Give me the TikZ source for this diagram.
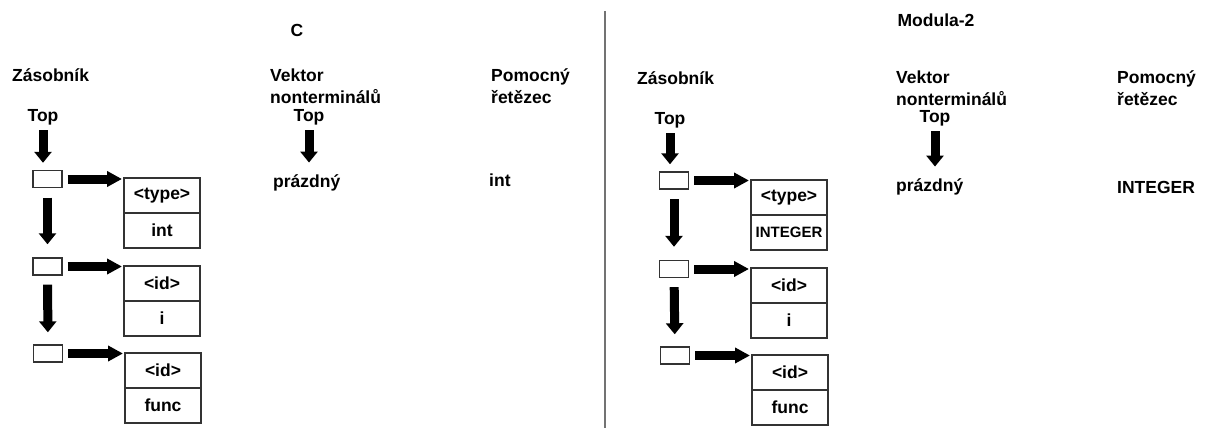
\documentclass[tikz,border=0pt]{standalone}
\usepackage{fontspec}
\setmainfont{Liberation Sans}
\usetikzlibrary{arrows.meta, positioning}

\begin{document}
\begin{tikzpicture}[x=1pt, y=-1pt,
          font=\fontsize{17.5}{22}\selectfont\bfseries,
          txt/.style={inner sep=0pt},
          lbl/.style={inner sep=0pt, anchor=west, align=left},
          slot/.style={
              draw=black!80,
              line width=1.4pt,
              minimum width=29pt,
              minimum height=17pt,
              inner sep=0pt
            },
          cell/.style={
              draw=black!80,
              line width=1.4pt,
              outer sep=0pt,
              minimum width=76pt,
              minimum height=35pt,
              inner sep=0pt
            },
          darr/.style={-{Triangle[length=11pt, width=17pt]}, line width=9pt},
          rarr/.style={-{Triangle[length=15pt, width=15pt]}, line width=9pt}
        ]
        \useasboundingbox (0,0) rectangle (1211,428);

        % C
        \node[txt] (l_title) at (297,30) {C};
        \node[lbl] (l_stack) at (12,75) {Zásobník};
        \node[txt] (l_top) at (43,117) {Top};
        \node[slot] (l_s1) at (47.5,179) {};
        \node[slot] (l_s2) at (47.5,266.5) {};
        \node[slot] (l_s3) at (48,353.5) {};
        \node[cell] (l_t1) at (162,195.5) {<type>};
        \node[cell, below=0pt of l_t1] (l_v1) {int};
        \node[cell] (l_t2) at (162,283.5) {<id>};
        \node[cell, below=0pt of l_t2] (l_v2) {i};
        \node[cell] (l_t3) at (163,370.5) {<id>};
        \node[cell, below=0pt of l_t3] (l_v3) {func};

        \draw[darr, shorten <=5pt, shorten >=7pt] (l_top) -- (l_top |- l_s1.north);
        \draw[darr, shorten <=9.5pt, shorten >=13pt] (l_s1) -- (l_s2);
        \draw[darr, shorten <=9pt, shorten >=12pt] (l_s2) -- (l_s3);
        \draw[rarr, shorten <=5pt, shorten >=2pt] (l_s1.east) -- (l_s1.east -| l_t1.west);
        \draw[rarr, shorten <=5pt, shorten >=2pt] (l_s2.east) -- (l_s2.east -| l_t2.west);
        \draw[rarr, shorten <=5pt, shorten >=2pt] (l_s3.east) -- (l_s3.east -| l_t3.west);

        \node[lbl] (l_vec) at (270,86) {Vektor\\nonterminálů};
        \node[txt] (l_vtop) at (309,117) {Top};
        \node[lbl] (l_empty) at (273,183) {prázdný};
        \draw[darr, shorten <=5pt, shorten >=12pt] (l_vtop) -- (l_vtop |- l_empty.north);
        \node[lbl] (l_aux) at (491,86) {Pomocný\\řetězec};
        \node[lbl] (l_str) at (489,180) {int};

        \draw[black!55, line width=1.5pt] (605,11) -- (605,428);

        % Modula-2
        \node[txt] (r_title) at (936,20) {Modula-2};
        \node[lbl] (r_stack) at (637,78) {Zásobník};
        \node[txt] (r_top) at (670,120) {Top};
        \node[slot] (r_s1) at (674,180.5) {};
        \node[slot] (r_s2) at (674,269) {};
        \node[slot] (r_s3) at (675,355.5) {};
        \node[cell] (r_t1) at (789,197.5) {<type>};
        \node[cell, below=0pt of r_t1, font=\fontsize{15}{18}\selectfont\bfseries] (r_v1) {INTEGER};
        \node[cell] (r_t2) at (789,285.5) {<id>};
        \node[cell, below=0pt of r_t2] (r_v2) {i};
        \node[cell] (r_t3) at (790,372.5) {<id>};
        \node[cell, below=0pt of r_t3] (r_v3) {func};

        \draw[darr, shorten <=5pt, shorten >=7pt] (r_top) -- (r_top |- r_s1.north);
        \draw[darr, shorten <=9.5pt, shorten >=13pt] (r_s1) -- (r_s2);
        \draw[darr, shorten <=9pt, shorten >=12pt] (r_s2) -- (r_s3);
        \draw[rarr, shorten <=5pt, shorten >=2pt] (r_s1.east) -- (r_s1.east -| r_t1.west);
        \draw[rarr, shorten <=5pt, shorten >=2pt] (r_s2.east) -- (r_s2.east -| r_t2.west);
        \draw[rarr, shorten <=5pt, shorten >=2pt] (r_s3.east) -- (r_s3.east -| r_t3.west);

        \node[lbl] (r_vec) at (896,88) {Vektor\\nonterminálů};
        \node[txt] (r_vtop) at (935,118) {Top};
        \node[lbl] (r_empty) at (896,187) {prázdný};
        \draw[darr, shorten <=5pt, shorten >=12pt] (r_vtop) -- (r_vtop |- r_empty.north);
        \node[lbl] (r_aux) at (1117,88) {Pomocný\\řetězec};
        \node[lbl] (r_str) at (1117,187) {INTEGER};
      \end{tikzpicture}
\end{document}
